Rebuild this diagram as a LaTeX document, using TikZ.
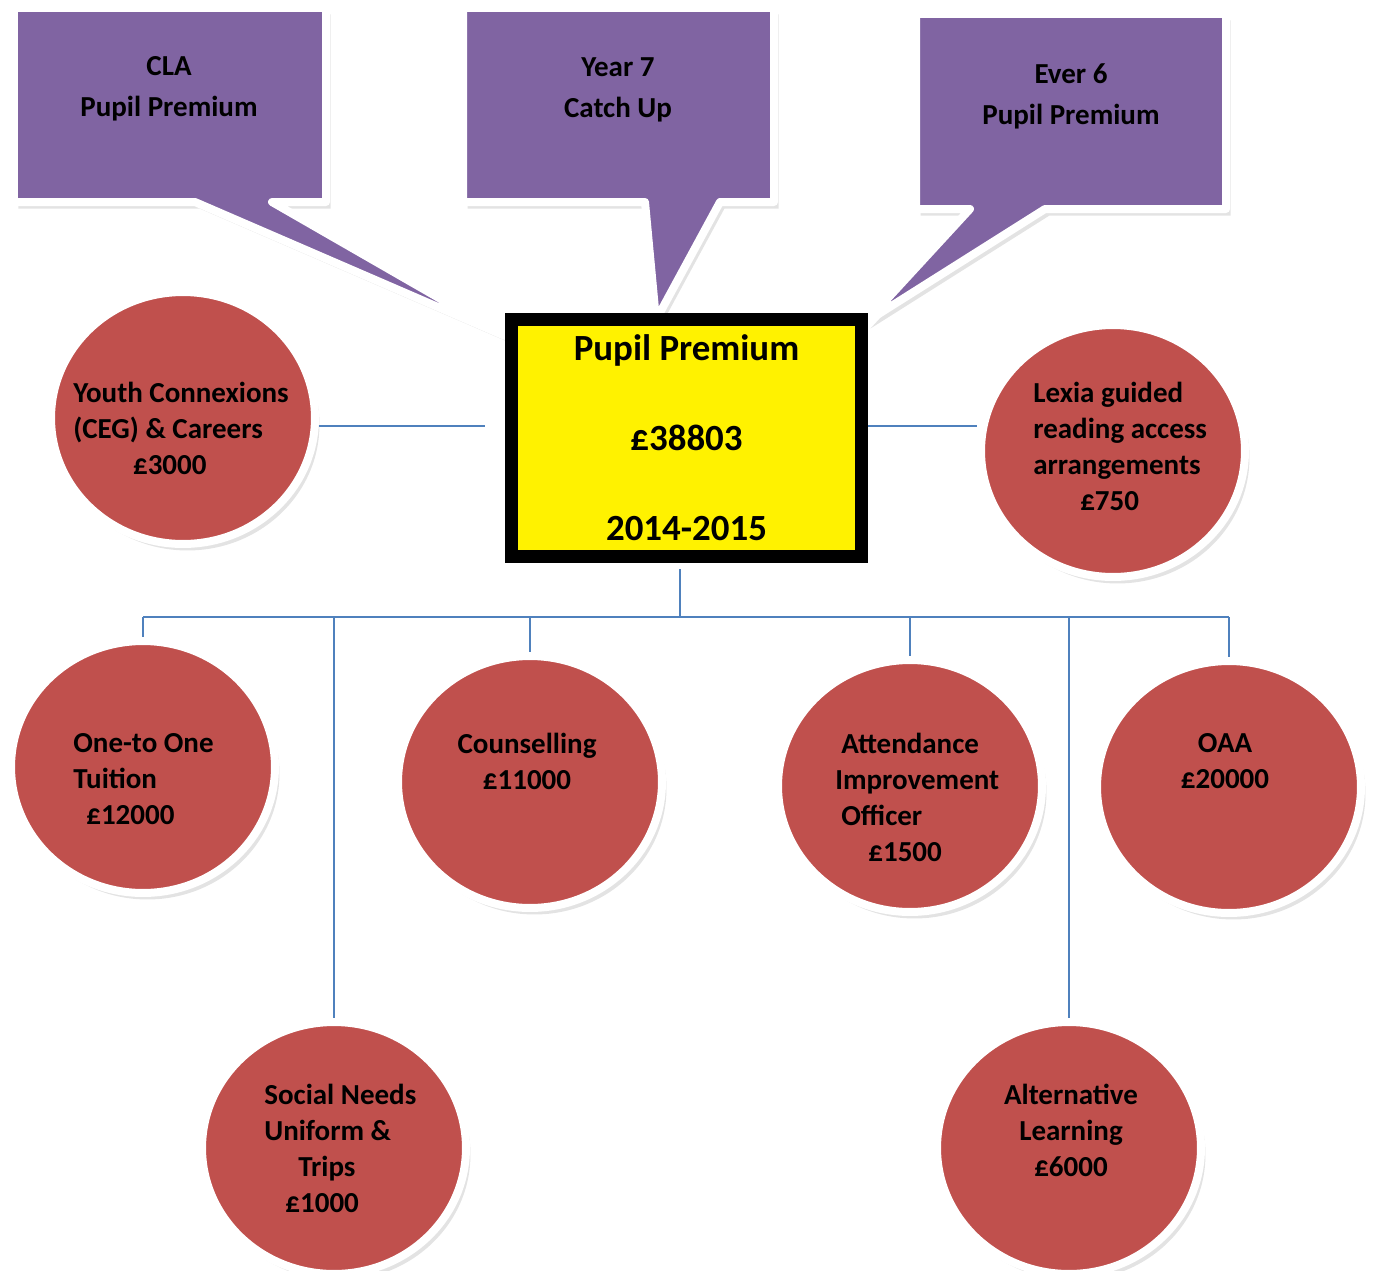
\documentclass[tikz,border=0pt]{standalone}
\usepackage{fontspec}
\setmainfont{Carlito}
\usetikzlibrary{shapes.geometric,shadows}

\definecolor{bubblepurple}{RGB}{128,100,162}
\definecolor{potred}{RGB}{192,80,77}
\definecolor{linkblue}{RGB}{79,129,189}

\tikzset{
	softshadow/.style={drop shadow={opacity=0.22, shadow xshift=0.09cm, shadow yshift=-0.13cm}},
	bubble/.style={fill=bubblepurple, draw=white, line width=0.16cm, line join=round, softshadow},
	pot/.style={ellipse, fill=potred, draw=white, line width=0.16cm, minimum width=5.28cm, minimum height=5.04cm, inner sep=0pt, softshadow},
	conn/.style={draw=linkblue, line width=0.8pt},
	btext/.style={font=\fontsize{16.5}{23.3}\selectfont\bfseries, align=center},
	ptext/.style={font=\fontsize{16.5}{20.5}\selectfont\bfseries, align=left, anchor=west, inner sep=0pt},
	pctext/.style={font=\fontsize{16.5}{20.5}\selectfont\bfseries, align=center, inner sep=0pt}
}

\begin{document}
\begin{tikzpicture}[x=0.02cm, y=-0.02cm]
		\useasboundingbox (0,0) rectangle (1376,1271);

		\path[bubble] (14,8) -- (326,8) -- (326,202) -- (272,202) -- (505,336) -- (195,202) -- (14,202) -- cycle;
		\node[btext] (claT) at (169,88.5) {CLA\\Pupil Premium};
		\path[bubble] (463,8) -- (774,8) -- (774,202) -- (720,202) -- (656,320) -- (645,202) -- (463,202) -- cycle;
		\node[btext] (yearT) at (618,89.5) {Year 7\\Catch Up};
		\path[bubble] (916,14) -- (1226,14) -- (1226,209) -- (1045,209) -- (866,322) -- (970,209) -- (916,209) -- cycle;
		\node[btext] (everT) at (1071,96.5) {Ever 6\\Pupil Premium};

		\node[pot] (youth) at (183,418) {};
		\node[ptext] (youthT) at (73,428) {Youth Connexions\\(CEG) \& Careers\\\hspace*{34pt}£3000};
		\node[pot] (lexia) at (1113,451) {};
		\node[ptext] (lexiaT) at (1033,446) {Lexia guided\\reading access\\arrangements\\\hspace*{26.7pt}£750};
		\node[pot] (one) at (143,767) {};
		\node[ptext] (oneT) at (73,779) {One-to One\\Tuition\\\hspace*{7.4pt}£12000};
		\node[pot] (couns) at (530,782) {};
		\node[pctext] (counsT) at (527,761) {Counselling\\£11000};
		\node[pot] (attend) at (910,786) {};
		\node[ptext] (attendT) at (835,797) {\hspace*{3.4pt}Attendance\\Improvement\\\hspace*{3.4pt}Officer\\\hspace*{18.8pt}£1500};
		\node[pot] (oaa) at (1229,787) {};
		\node[pctext] (oaaT) at (1225,761) {OAA\\£20000};
		\node[pot] (social) at (334,1148) {};
		\node[ptext] (socialT) at (264,1148) {Social Needs\\Uniform \&\\\hspace*{19.3pt}Trips\\\hspace*{12pt}£1000};
		\node[pot] (alt) at (1069,1148) {};
		\node[pctext] (altT) at (1071,1130) {Alternative\\Learning\\£6000};

		\node[draw=black, fill=yellow, line width=0.26cm, minimum width=7cm, minimum height=4.74cm, inner sep=0pt, font=\fontsize{21}{51.2}\selectfont\bfseries, align=center, softshadow] (fund) at (686.5,438) {Pupil Premium\\£38803\\2014-2015};

		\coordinate (hub) at (680,617);
		\draw[conn, shorten >=0.4cm] (youth.east |- 0,426) -- (fund.west |- 0,426);
		\draw[conn] (fund.east |- 0,426) -- (lexia.west |- 0,426);
		\draw[conn, shorten <=0.13cm] (fund.south -| hub) -- (hub);
		\draw[conn] (one.north |- hub) -- (oaa.north |- hub);
		\foreach \p in {one,social,couns,attend,alt,oaa}
			\draw[conn] (\p.north |- hub) -- (\p.north);
\end{tikzpicture}
\end{document}
